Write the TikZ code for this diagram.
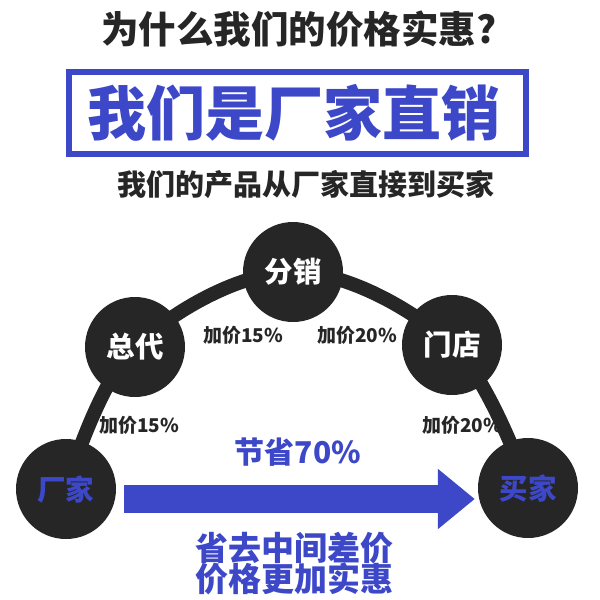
\documentclass[tikz,border=0pt]{standalone}
\usepackage{fontspec}
\newfontfamily\cjk{Noto Sans CJK SC}
\usetikzlibrary{arrows.meta}
\definecolor{dk}{HTML}{262626}
\definecolor{bl}{HTML}{3D48C9}
\newcommand{\fs}[1]{\fontsize{#1}{#1}\selectfont}
\tikzset{
  dot/.style={circle, fill=dk, minimum size=100pt, inner sep=0pt},
  wtxt/.style={text=white, font=\cjk\bfseries\fs{28.5}},
  btxt/.style={text=bl, font=\cjk\bfseries\fs{28.5}},
  plab/.style={text=dk, font=\cjk\bfseries\fs{19}, inner sep=0pt},
  arcline/.style={draw=dk, line width=14pt},
}
\begin{document}
\begin{tikzpicture}[x=1pt,y=-1pt]
\useasboundingbox[fill=white] (0,0) rectangle (600,600);
% title
\node[text=dk, font=\cjk\bfseries\fs{37.5}, inner sep=0pt] (title) at (299,29) {为什么我们的价格实惠?};
% blue box
\draw[bl, line width=6pt] (69,72) rectangle (526,154);
\node[text=bl, font=\cjk\bfseries\fs{59}, inner sep=0pt] (main) at (294,113) {我们是厂家直销};
\node[text=dk, font=\cjk\bfseries\fs{29}, inner sep=0pt] (sub) at (306,185) {我们的产品从厂家直接到买家};
% circle positions
\coordinate (pf) at (66,489);
\coordinate (pz) at (135,347);
\coordinate (px) at (293,272);
\coordinate (pm) at (452,345);
\coordinate (pb) at (528,488);
\draw[arcline] plot[smooth, tension=0.6] coordinates {(pf) (pz) (px) (pm) (pb)};
\node[dot, btxt] (f) at (pf) {厂家};
\node[dot, wtxt] (z) at (pz) {总代};
\node[dot, wtxt] (x) at (px) {分销};
\node[dot, wtxt] (m) at (pm) {门店};
\node[dot, btxt] (b) at (pb) {买家};
% labels
\node[plab] (l1) at (243,335) {加价15\%};
\node[plab] (l2) at (357,335) {加价20\%};
\node[plab] (l3) at (139,425) {加价15\%};
\node[plab] (l4) at (462,425) {加价20\%};
% arrow
\node[text=bl, font=\cjk\bfseries\fs{30}, inner sep=0pt] (save) at (298,452) {节省70\%};
\draw[bl, line width=28pt, -{Triangle[width=58pt,length=37pt]}, shorten <=8pt, shorten >=3pt]
  ([yshift=-10pt]f.east) -- ([yshift=-10pt]f.east -| b.west);
\node[text=bl, font=\cjk\bfseries\fs{33}, inner sep=0pt, align=center] (bot) at (294,564) {省去中间差价\\[-2pt]价格更加实惠};
\end{tikzpicture}
\end{document}
